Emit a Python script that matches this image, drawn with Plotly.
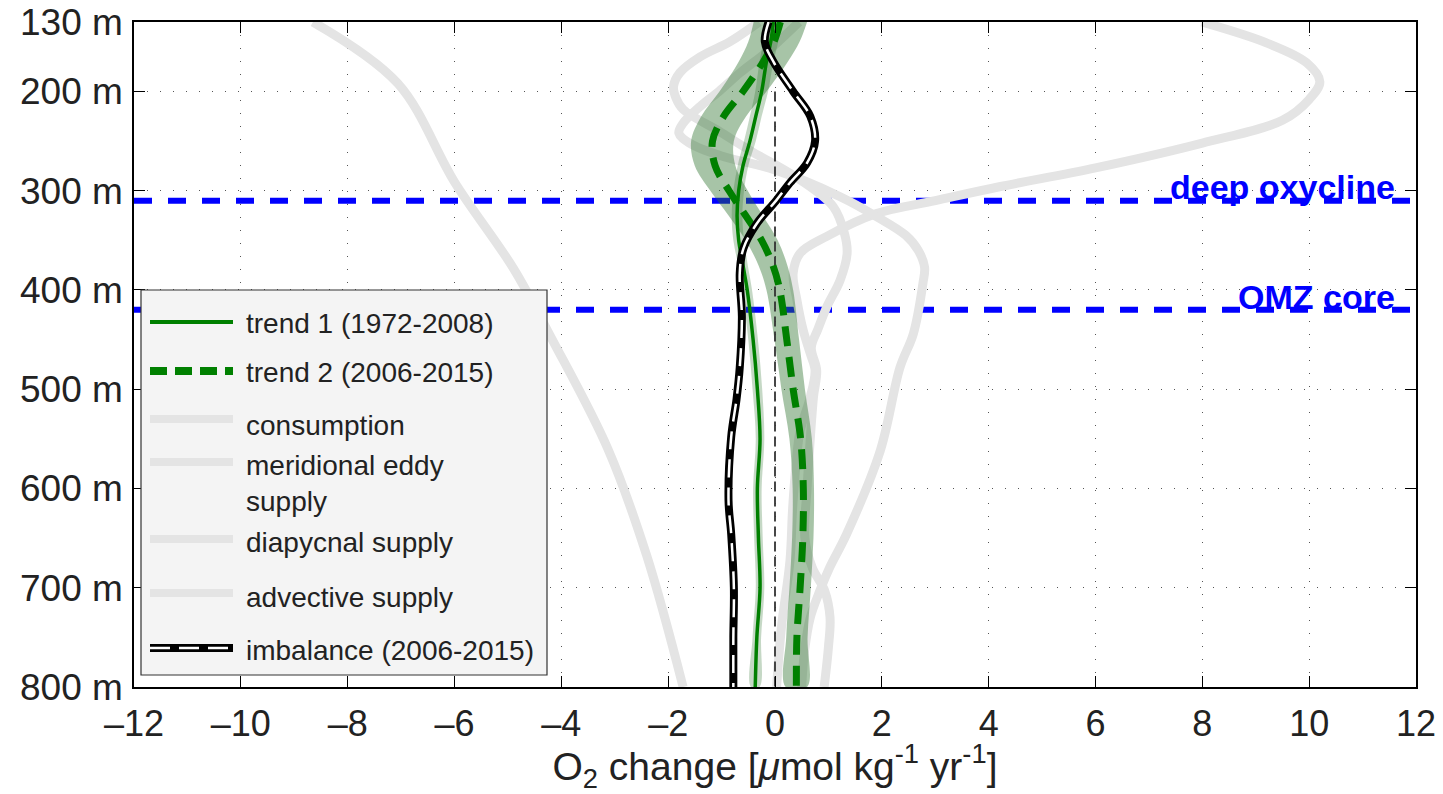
import plotly.graph_objects as go

# ---------------- axis ticks ----------------
x_ticks = [-12, -10, -8, -6, -4, -2, 0, 2, 4, 6, 8, 10, 12]
x_tick_labels = ["\u201312", "\u201310", "\u20138", "\u20136", "\u20134", "\u20132", "0",
                 "2", "4", "6", "8", "10", "12"]
y_ticks = [130, 200, 300, 400, 500, 600, 700, 800]
y_tick_labels = ["130 m", "200 m", "300 m", "400 m", "500 m", "600 m", "700 m", "800 m"]

# ---------------- observed trends ----------------
depth_trend = [130, 150, 170, 200, 225, 250, 275, 300, 325, 350, 375, 400,
               450, 500, 550, 600, 650, 700, 750, 800]
trend1 = [-0.03, -0.08, -0.16, -0.25, -0.36, -0.47, -0.60, -0.68, -0.71, -0.68, -0.60, -0.52,
          -0.41, -0.33, -0.28, -0.33, -0.31, -0.28, -0.34, -0.37]
trend1_err = [0.15, 0.14, 0.13, 0.12, 0.11, 0.11, 0.10, 0.10, 0.10, 0.10, 0.09, 0.09,
              0.09, 0.09, 0.08, 0.08, 0.08, 0.08, 0.08, 0.08]
trend2 = [0.10, -0.02, -0.22, -0.60, -0.96, -1.17, -1.12, -0.86, -0.55, -0.25, -0.04, 0.09,
          0.22, 0.34, 0.48, 0.53, 0.52, 0.47, 0.41, 0.40]
trend2_err = [0.50, 0.48, 0.46, 0.44, 0.42, 0.40, 0.38, 0.35, 0.32, 0.30, 0.27, 0.25,
              0.23, 0.22, 0.21, 0.20, 0.20, 0.20, 0.20, 0.20]

# ---------------- imbalance ----------------
imb_depth = [130, 150, 170, 200, 225, 250, 272, 292, 310, 333, 358, 383, 427, 478,
             510, 548, 612, 646, 700, 750, 800]
imbalance = [-0.12, -0.19, -0.03, 0.34, 0.66, 0.75, 0.60, 0.28, 0.02, -0.34, -0.59, -0.66,
             -0.62, -0.66, -0.72, -0.82, -0.87, -0.82, -0.77, -0.78, -0.78]

# ---------------- budget terms (grey) ----------------
cons_depth = [130, 192, 292, 378, 448, 560, 668, 800]
consumption = [-8.65, -7.06, -5.99, -4.90, -4.19, -3.13, -2.40, -1.72]

eddy_depth = [130, 150, 165, 181, 195, 207, 218, 240, 260, 289, 316, 343, 363, 390, 417,
              440, 458, 481, 508, 550, 600, 650, 680, 703, 730, 760, 800]
eddy = [-0.30, -0.85, -1.40, -1.78, -1.90, -1.85, -1.72, -1.05, -0.45, 0.47, 1.09, 1.30,
        1.35, 1.22, 0.97, 0.80, 0.68, 0.78, 0.72, 0.66, 0.60, 0.56, 0.70, 0.93, 1.03, 1.00, 0.92]

diap_depth = [130, 151, 171, 190, 208, 229, 252, 277, 296, 310, 323, 346, 363, 383, 410,
              441, 464, 481, 508, 542, 572, 620, 673, 740, 800]
diapycnal = [7.99, 9.20, 9.95, 10.20, 10.00, 9.50, 8.00, 6.00, 4.20, 3.00, 1.90, 0.97,
             0.47, 0.34, 0.41, 0.53, 0.66, 0.75, 0.66, 0.47, 0.40, 0.33, 0.28, 0.12, 0.03]

adv_depth = [130, 160, 181, 200, 215, 232, 242, 252, 265, 279, 306, 326, 345, 360, 377,
             393, 444, 478, 562, 646, 680, 703, 730, 765, 800]
advective = [0.45, -0.15, -0.65, -1.05, -1.40, -1.72, -1.80, -1.60, -1.00, 0.00, 1.22, 1.90,
             2.45, 2.68, 2.80, 2.77, 2.59, 2.34, 1.97, 1.34, 1.02, 0.84, 0.66, 0.55, 0.50]

# ---------------- reference depths ----------------
oxycline_depth = 310
omz_depth = 420
zero_line_depth = [200, 800]

GREY = "#e4e4e4"
GREEN = "#008000"
BAND = "rgba(45,115,45,0.42)"
BAND1 = "rgba(45,115,45,0.28)"
FONT = "Liberation Sans, Arial, Helvetica, sans-serif"

fig = go.Figure()

# reference depth lines
for d in (oxycline_depth, omz_depth):
    fig.add_trace(go.Scatter(x=[x_ticks[0], x_ticks[-1]], y=[d, d], mode="lines",
                             line=dict(color="#0000ff", width=6, dash="18px,16px"),
                             hoverinfo="skip", showlegend=False))

# grey budget terms
for dd, xx in ((cons_depth, consumption), (eddy_depth, eddy),
               (diap_depth, diapycnal), (adv_depth, advective)):
    fig.add_trace(go.Scatter(x=xx, y=dd, mode="lines", line=dict(color=GREY, width=9, shape="spline"),
                             showlegend=False))

# uncertainty bands
def band(center, err, depth, color):
    lo = [c - e for c, e in zip(center, err)]
    hi = [c + e for c, e in zip(center, err)]
    fig.add_trace(go.Scatter(x=lo + hi[::-1], y=depth + depth[::-1], mode="lines",
                             fill="toself", fillcolor=color, line=dict(width=0, shape="spline"),
                             hoverinfo="skip", showlegend=False))

band(trend2, trend2_err, depth_trend, BAND)
band(trend1, trend1_err, depth_trend, BAND1)

# zero line
fig.add_trace(go.Scatter(x=[0, 0], y=zero_line_depth, mode="lines",
                         line=dict(color="#333333", width=1.8, dash="10px,5px"),
                         hoverinfo="skip", showlegend=False))

# trends
fig.add_trace(go.Scatter(x=trend1, y=depth_trend, mode="lines",
                         line=dict(color=GREEN, width=3.5, shape="spline"), showlegend=False))
fig.add_trace(go.Scatter(x=trend2, y=depth_trend, mode="lines",
                         line=dict(color=GREEN, width=7, shape="spline", dash="20px,11px"),
                         showlegend=False))

# imbalance
fig.add_trace(go.Scatter(x=imbalance, y=imb_depth, mode="lines",
                         line=dict(color="black", width=8, shape="spline"), showlegend=False))
fig.add_trace(go.Scatter(x=imbalance, y=imb_depth, mode="lines",
                         line=dict(color="white", width=2.5, shape="spline", dash="18px,10px"),
                         showlegend=False))

# region labels
for d, txt in ((296, "deep oxycline"), (407, "OMZ core")):
    fig.add_annotation(x=11.64, y=d, text="<b>%s</b>" % txt, showarrow=False,
                       xanchor="right", yanchor="middle",
                       font=dict(family=FONT, size=34, color="#0000ff"))

# ---------------- manual legend (paper coords from plot area) ----------------
L, R, T, B = 134, 1416, 22, 687
def px(xp):
    return (xp - L) / (R - L)
def py(yp):
    return (B - yp) / (B - T)

shapes = [dict(type="rect", xref="paper", yref="paper", x0=px(141), x1=px(547),
               y0=py(675), y1=py(290), fillcolor="#f4f4f4",
               line=dict(color="#333333", width=1.2), layer="above")]
legend_items = [
    ("trend 1 (1972-2008)", 322, 323, dict(color=GREEN, width=4)),
    ("trend 2 (2006-2015)", 371, 372, dict(color=GREEN, width=8, dash="17px,8px")),
    ("consumption", 419, 425, dict(color=GREY, width=8)),
    ("meridional eddy<br>supply", 462, 484, dict(color=GREY, width=8)),
    ("diapycnal supply", 539, 542, dict(color=GREY, width=8)),
    ("advective supply", 593, 597, dict(color=GREY, width=8)),
    ("imbalance (2006-2015)", 648, 650, dict(color="black", width=8)),
]
for text, ly, ty, ln in legend_items:
    shapes.append(dict(type="line", xref="paper", yref="paper", x0=px(150), x1=px(233),
                       y0=py(ly), y1=py(ly), line=ln, layer="above"))
    fig.add_annotation(xref="paper", yref="paper", x=px(244), y=py(ty), text=text,
                       showarrow=False, xanchor="left", yanchor="middle", align="left",
                       font=dict(family=FONT, size=28, color="#222222"))
shapes.append(dict(type="line", xref="paper", yref="paper", x0=px(150), x1=px(233),
                   y0=py(648), y1=py(648), line=dict(color="white", width=2.5, dash="20px,9px"),
                   layer="above"))

fig.update_layout(
    width=1443, height=794, autosize=False,
    margin=dict(l=L, r=1443 - R, t=T, b=794 - B, autoexpand=False),
    paper_bgcolor="white", plot_bgcolor="white",
    shapes=shapes, showlegend=False,
    font=dict(family=FONT, color="#222222"),
)
fig.update_xaxes(range=[x_ticks[0], x_ticks[-1]], tickvals=x_ticks, ticktext=x_tick_labels,
                 automargin=False,
                 ticks="inside", ticklen=11, tickwidth=1.3, tickcolor="black",
                 showline=True, linecolor="black", linewidth=1.5, mirror="ticks",
                 showgrid=True, gridcolor="#555555", gridwidth=1, griddash="1px,12px",
                 zeroline=False, tickfont=dict(size=36, family=FONT, color="#222222"),
                 ticklabelstandoff=4,
                 title=dict(text="O<sub>2</sub> change [<i>\u03bc</i>mol kg<sup>-1</sup> yr<sup>-1</sup>]",
                            font=dict(size=39, family=FONT, color="#222222"), standoff=5))
fig.update_yaxes(range=[y_ticks[-1], y_ticks[0]], tickvals=y_ticks, ticktext=y_tick_labels,
                 automargin=False,
                 ticks="inside", ticklen=11, tickwidth=1.3, tickcolor="black",
                 showline=True, linecolor="black", linewidth=1.5, mirror="ticks",
                 showgrid=True, gridcolor="#555555", gridwidth=1, griddash="1px,12px",
                 zeroline=False, tickfont=dict(size=37, family=FONT, color="#222222"),
                 ticklabelstandoff=2)

fig.write_html("out.html")
